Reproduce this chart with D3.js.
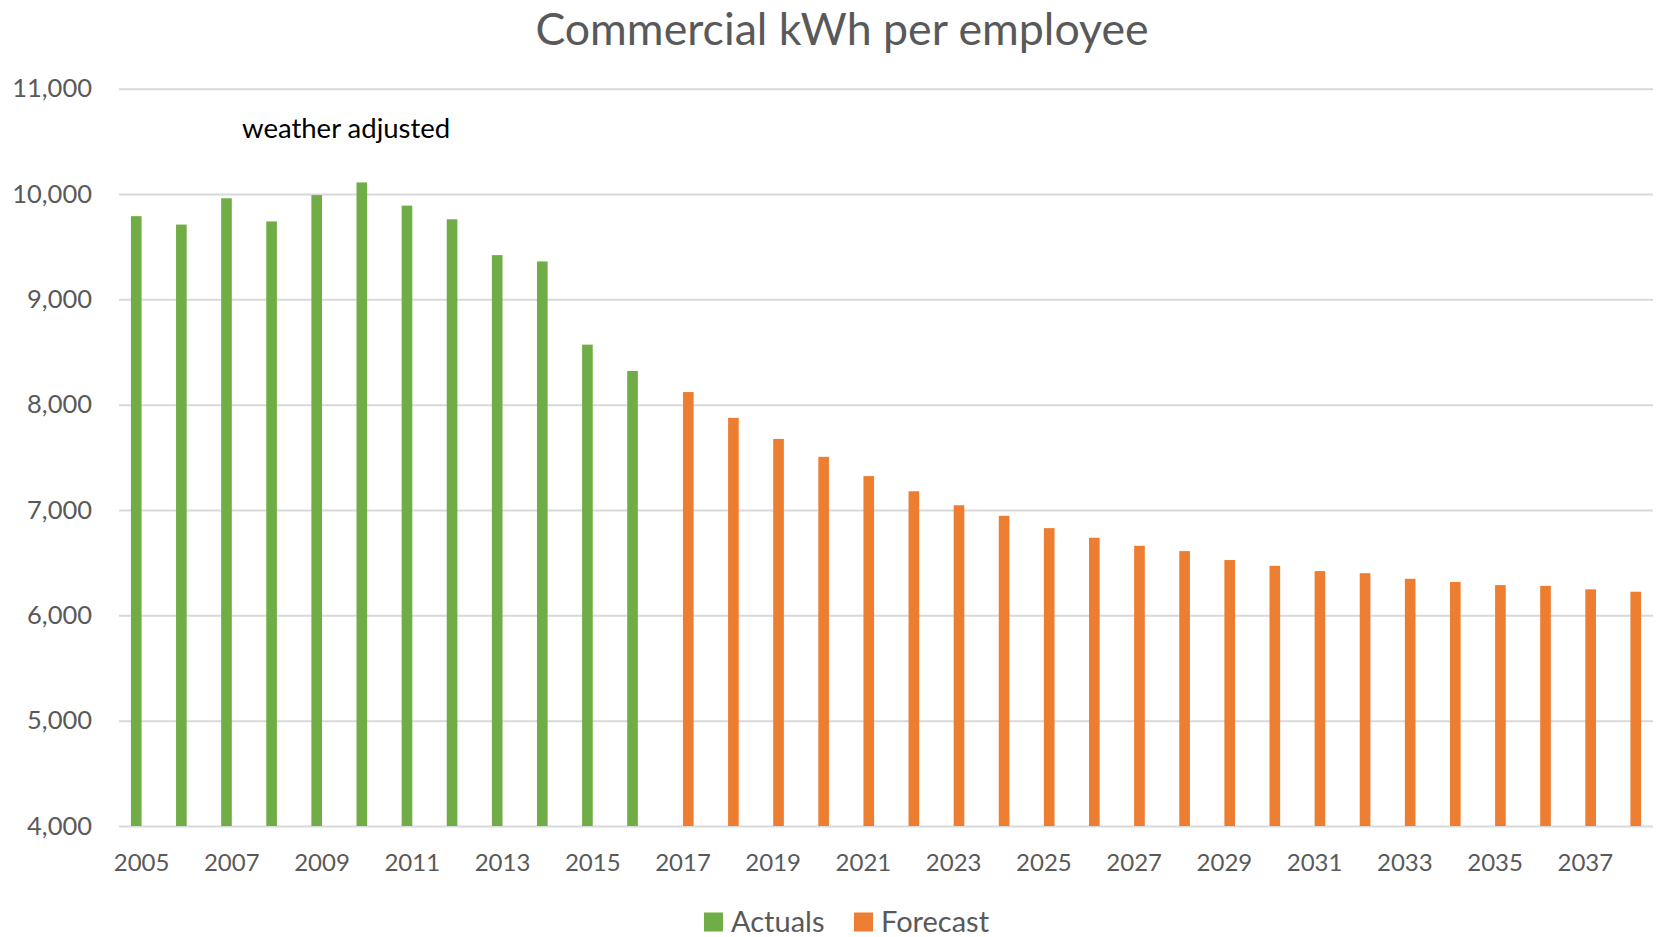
<!DOCTYPE html>
<html>
<head>
<meta charset="utf-8">
<script src="https://cdn.jsdelivr.net/npm/d3@7"></script>
<style>
  html, body { margin: 0; padding: 0; background: #fff; }
  text { font-family: Lato, "Open Sans", sans-serif; }
</style>
</head>
<body>
<svg id="chart" width="1656" height="937"></svg>
<script>
// Years on the x axis
const years = d3.range(2005, 2039);
// Weather-adjusted actuals, 2005-2016
const actualYears = d3.range(2005, 2017);
const actuals = [9790, 9710, 9960, 9740, 9990, 10110, 9890, 9760, 9420, 9360, 8570, 8320];
// Forecast, 2017-2038
const forecastYears = d3.range(2017, 2039);
const forecast = [8120, 7875, 7675, 7505, 7322, 7178, 7045, 6945, 6828, 6737, 6660, 6610,
                  6525, 6470, 6420, 6400, 6347, 6317, 6287, 6280, 6247, 6224];
const yTicks = [4000, 5000, 6000, 7000, 8000, 9000, 10000, 11000];
const seriesNames = ["Actuals", "Forecast"];
const seriesColors = ["#70AD47", "#ED7D31"];

const svg = d3.select("#chart");
const plotLeft = 119, plotRight = 1653, plotTop = 88.7, plotBottom = 826;
const textColor = "#595959";

const x = d3.scaleBand().domain(years).range([plotLeft, plotRight]).padding(0);
const xSeries = d3.scaleBand().domain(seriesNames).range([0, x.bandwidth()])
    .paddingInner(0).paddingOuter(1.12);
const y = d3.scaleLinear().domain([4000, 11000]).range([plotBottom, plotTop]);

// Gridlines + y labels
const yAxis = svg.append("g")
    .attr("transform", `translate(${plotLeft},0)`)
    .call(d3.axisLeft(y).tickValues(yTicks).tickSize(-(plotRight - plotLeft)).tickPadding(27)
        .tickFormat(d3.format(",")));
yAxis.select(".domain").remove();
yAxis.selectAll(".tick line").attr("stroke", "#d9d9d9").attr("stroke-width", 2);
yAxis.selectAll(".tick text")
    .style("font-size", "25.5px")
    .attr("fill", textColor);

// x labels, every other year
const xAxis = svg.append("g")
    .attr("transform", `translate(0,${plotBottom})`)
    .call(d3.axisBottom(x).tickSize(0).tickPadding(28)
        .tickFormat(d => (d - 2005) % 2 === 0 ? d : ""));
xAxis.select(".domain").remove();
xAxis.selectAll(".tick text")
    .style("font-size", "24px")
    .attr("fill", textColor);

// Bars
const actualData = actualYears.map((yr, i) => ({ year: yr, value: actuals[i] }));
const forecastData = forecastYears.map((yr, i) => ({ year: yr, value: forecast[i] }));

[actualData, forecastData].forEach((data, s) => {
    svg.append("g").selectAll("rect")
        .data(data)
        .enter()
        .append("rect")
        .attr("x", d => x(d.year) + xSeries(seriesNames[s]))
        .attr("width", xSeries.bandwidth())
        .attr("y", d => y(d.value))
        .attr("height", d => y(4000) - y(d.value))
        .attr("fill", seriesColors[s]);
});

// Title
svg.append("text")
    .attr("x", 842)
    .attr("y", 45)
    .attr("text-anchor", "middle")
    .style("font-size", "44.7px")
    .attr("fill", textColor)
    .text("Commercial kWh per employee");

// Annotation
svg.append("text")
    .attr("x", 242)
    .attr("y", 138)
    .style("font-size", "27.5px")
    .attr("fill", "#000")
    .text("weather adjusted");

// Legend
const legend = svg.append("g").attr("transform", "translate(704,922)");
const legendX = [0, 150];
seriesNames.forEach((name, i) => {
    const item = legend.append("g").attr("transform", `translate(${legendX[i]},0)`);
    item.append("rect")
        .attr("x", 0).attr("y", -9.5)
        .attr("width", 19).attr("height", 19)
        .attr("fill", seriesColors[i]);
    item.append("text")
        .attr("x", 27)
        .attr("y", 0)
        .attr("dy", "0.36em")
        .style("font-size", "29px")
        .attr("fill", textColor)
        .text(name);
});
</script>
</body>
</html>
